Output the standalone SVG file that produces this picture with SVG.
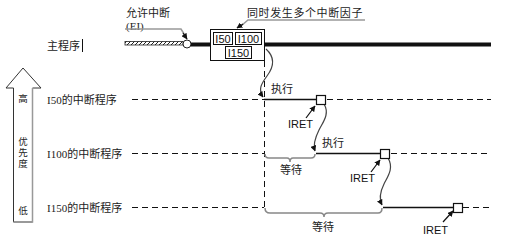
<svg xmlns="http://www.w3.org/2000/svg" width="506" height="237" viewBox="0 0 506 237">
<defs>
<marker id="ah" viewBox="0 0 10 10" refX="9" refY="5" markerWidth="6" markerHeight="6" orient="auto" markerUnits="userSpaceOnUse"><path d="M0,0 L10,5 L0,10 z" fill="#111"/></marker>
<pattern id="hatch" width="4" height="4" patternUnits="userSpaceOnUse"><rect width="4" height="4" fill="#fff"/><path d="M0,4 L4,0" stroke="#222" stroke-width="1"/></pattern>
<style>
.lbl{font-family:"Liberation Serif","Noto Sans CJK SC",serif;font-size:11px;fill:#222}
.cj{font-family:"Noto Sans CJK SC",sans-serif;font-size:11px;fill:#222}
.sans{font-family:"Liberation Sans",Arial,sans-serif;font-size:11px;fill:#111}
.dash{stroke:#111;stroke-width:1;stroke-dasharray:6,4;fill:none}
.solid{stroke:#111;stroke-width:1.3;fill:none}
.curve{stroke:#444;stroke-width:1.2;fill:none}
.brace{stroke:#888;stroke-width:1.5;fill:none}
.sq{fill:#fff;stroke:#111;stroke-width:1.2}
.ptr{stroke:#111;stroke-width:1.2;fill:none}
.ib{fill:#fff;stroke:#111;stroke-width:1}
.pr{font-family:"Noto Sans CJK SC",sans-serif;font-size:9.5px;fill:#222}
</style>
</defs>

<g id="priority-arrow">
<path d="M13.5,222 L13.5,88 L6,88 L23,68 L41,88 L32.5,88 L32.5,222 Z" fill="#fff" stroke="#333" stroke-width="1"/>
<path d="M32.5,88 L32.5,222 L13.5,222" fill="none" stroke="#999" stroke-width="1.5"/>
<text class="pr" x="23" y="102" text-anchor="middle">高</text>
<text class="pr" x="23" y="137" style="writing-mode:vertical-rl" letter-spacing="1.5">优先度</text>
<text class="pr" x="23" y="214" text-anchor="middle">低</text>
</g>

<g id="main-program">
<text class="lbl" x="47" y="50">主程序</text>
<line x1="82.5" y1="39" x2="82.5" y2="52" stroke="#111" stroke-width="1"/>
<rect x="125" y="41.5" width="58" height="3.5" fill="url(#hatch)" stroke="#222" stroke-width="0.8"/>
<circle cx="187" cy="44" r="4" fill="#fff" stroke="#222" stroke-width="1"/>
<line x1="191" y1="44.5" x2="210" y2="44.5" stroke="#111" stroke-width="4"/>
<line x1="264" y1="44.5" x2="491" y2="44.5" stroke="#111" stroke-width="4"/>
</g>

<g id="ei-label">
<text class="lbl" x="126" y="17">允许中断</text>
<text class="lbl" x="126" y="30">(EI)</text>
</g>

<g id="source-box">
<rect x="210.5" y="29.5" width="54" height="31" fill="#fff" stroke="#111" stroke-width="1"/>
<rect class="ib" x="213.5" y="32.5" width="19" height="12"/>
<rect class="ib" x="235.5" y="32.5" width="26" height="12"/>
<rect class="ib" x="225.5" y="46.5" width="26" height="12"/>
<text class="sans" x="223" y="43" text-anchor="middle">I50</text>
<text class="sans" x="248.5" y="43" text-anchor="middle">I100</text>
<text class="sans" x="238.5" y="57" text-anchor="middle">I150</text>
</g>

<g id="multi-label">
<text class="cj" x="247" y="17" letter-spacing="0.6">同时发生多个中断因子</text>
</g>

<g id="row-i50">
<text class="lbl" x="47" y="104">I50的中断程序</text>
</g>
<g id="row-i100">
<text class="lbl" x="47" y="158">I100的中断程序</text>
</g>
<g id="row-i150">
<text class="lbl" x="47" y="212">I150的中断程序</text>
</g>

<g id="connectors">
<path d="M125,29 L181,29 L186,37" stroke="#999" stroke-width="1.5" fill="none"/>
<line x1="183" y1="33" x2="187" y2="39" class="ptr" marker-end="url(#ah)"/>
<path d="M365,20 L248,20 L241,26" stroke="#999" stroke-width="1.5" fill="none"/>
<line x1="243" y1="24" x2="237" y2="28" class="ptr" marker-end="url(#ah)"/>

<line class="dash" x1="132" y1="99.5" x2="264" y2="99.5"/>
<line class="dash" x1="327" y1="99.5" x2="491" y2="99.5"/>
<line class="dash" x1="132" y1="153.5" x2="264" y2="153.5"/>
<line class="dash" x1="391" y1="153.5" x2="491" y2="153.5"/>
<line class="dash" x1="132" y1="207.5" x2="264" y2="207.5"/>
<line class="dash" x1="463" y1="207.5" x2="491" y2="207.5"/>
<line class="dash" x1="264.5" y1="61" x2="264.5" y2="207"/>

<line class="solid" x1="264" y1="99.5" x2="316" y2="99.5"/>
<line class="solid" x1="316" y1="153.5" x2="380" y2="153.5"/>
<line class="solid" x1="383" y1="207.5" x2="453" y2="207.5"/>

<path class="curve" d="M266,49 C276,58 273,68 267,76 C261,84 258,90 263,97" marker-end="url(#ah)"/>
<path class="curve" d="M324,104 C330,114 323,122 319,130 C315,138 313,145 315,151" marker-end="url(#ah)"/>
<path class="curve" d="M388,158 C394,168 388,176 384,184 C380,192 379,199 382,205" marker-end="url(#ah)"/>

<line class="ptr" x1="306" y1="118" x2="315" y2="106" marker-end="url(#ah)"/>
<line class="ptr" x1="371" y1="172" x2="380" y2="160" marker-end="url(#ah)"/>
<line class="ptr" x1="443" y1="222" x2="453" y2="211" marker-end="url(#ah)"/>

<path class="brace" d="M265,154 Q265,158 269,158 L287,158 Q290,158 290,162 Q290,158 293,158 L311,158 Q315,158 315,154"/>
<path class="brace" d="M265,208 Q265,213 270,213 L320,213 Q324,213 324,217 Q324,213 328,213 L378,213 Q382,213 382,208"/>
</g>

<g id="exec-i50">
<rect class="sq" x="316.5" y="95.5" width="9" height="9"/>
<text class="cj" x="271" y="93">执行</text>
<text class="sans" x="288" y="128">IRET</text>
</g>
<g id="exec-i100">
<rect class="sq" x="380.5" y="149.5" width="9" height="9"/>
<text class="cj" x="322" y="147">执行</text>
<text class="cj" x="280" y="174">等待</text>
<text class="sans" x="350" y="182">IRET</text>
</g>
<g id="exec-i150">
<rect class="sq" x="453.5" y="203.5" width="9" height="9"/>
<text class="cj" x="312" y="231">等待</text>
<text class="sans" x="423" y="234">IRET</text>
</g>
</svg>
